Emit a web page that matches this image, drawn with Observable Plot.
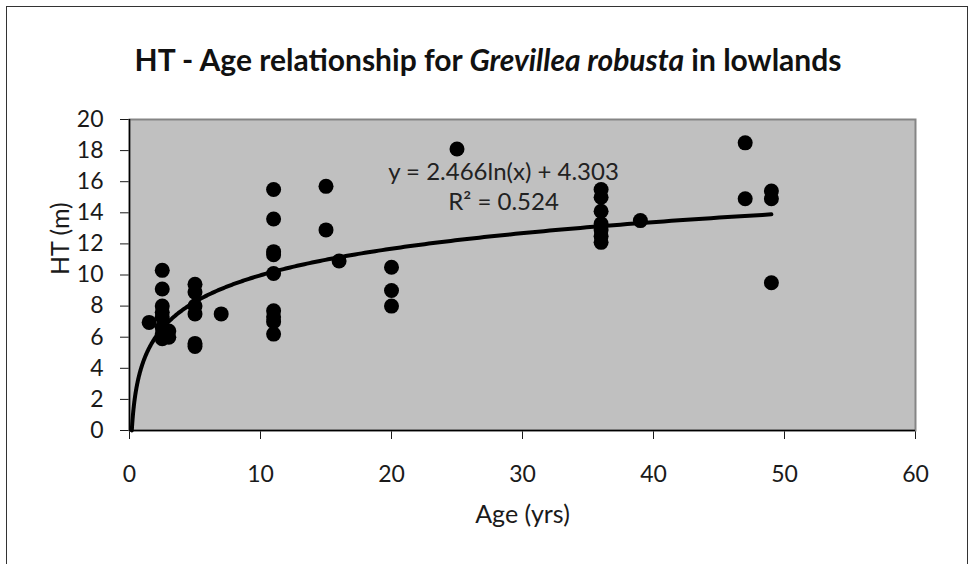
<!DOCTYPE html>
<html>
<head>
<meta charset="utf-8">
<script src="https://cdn.jsdelivr.net/npm/d3@7"></script>
<script src="https://cdn.jsdelivr.net/npm/@observablehq/plot@0.6"></script>
<style>
  body { margin: 0; background: #fff; }
  #wrap { position: relative; width: 976px; height: 564px; overflow: hidden; background: #fff; }
  #title { position: absolute; top: 41px; left: 0; width: 976px; text-align: center;
           font: bold 30px Lato, "Open Sans", sans-serif; line-height: 36px; color: #111; }
  #chart { position: absolute; top: 100px; left: 0; }
  #border { position: absolute; left: 6px; top: 6px; width: 960px; height: 700px;
            border: 1.5px solid #333; pointer-events: none; }
</style>
</head>
<body>
<div id="wrap">
  <div id="title">HT - Age relationship for <i>Grevillea robusta</i> in lowlands</div>
  <div id="chart"></div>
  <div id="border"></div>
</div>
<script>
// Observed data: age (yrs) and height (m)
const age = [
  1.5,
  2.5, 2.5, 2.5, 2.5, 2.5, 2.5, 2.5, 2.5,
  3, 3,
  5, 5, 5, 5, 5, 5,
  7,
  11, 11, 11, 11, 11, 11, 11, 11, 11,
  15, 15,
  16,
  20, 20, 20,
  25,
  36, 36, 36, 36, 36, 36, 36,
  39,
  47, 47,
  49, 49, 49
];
const height = [
  6.95,
  10.3, 9.1, 8.0, 7.6, 7.3, 6.6, 6.2, 5.9,
  6.4, 6.0,
  9.4, 8.9, 8.0, 7.5, 5.6, 5.4,
  7.5,
  15.5, 13.6, 11.5, 11.3, 10.1, 7.7, 7.3, 7.0, 6.2,
  15.7, 12.9,
  10.9,
  10.5, 9.0, 8.0,
  18.1,
  15.5, 15.0, 14.1, 13.3, 12.9, 12.5, 12.1,
  13.5,
  18.5, 14.9,
  15.4, 14.9, 9.5
];

// Logarithmic trendline reported on the chart: y = a ln(x) + b
const trendCoef = [2.466, 4.303];
const trendRange = [Math.exp(-trendCoef[1] / trendCoef[0]), 49];

// Tick values
const xTicks = [0, 10, 20, 30, 40, 50, 60];
const yTicks = [0, 2, 4, 6, 8, 10, 12, 14, 16, 18, 20];

// Equation label (data coordinates)
const eqLines = ["y = 2.466ln(x) + 4.303", "R² = 0.524"];
const eqX = [28.55, 28.55];
const eqY = [16.6, 14.65];

const points = age.map((a, i) => ({age: a, ht: height[i]}));
const n = 400;
const trend = d3.range(n).map(i => {
  const x = trendRange[0] * Math.pow(trendRange[1] / trendRange[0], i / (n - 1));
  return {age: x, ht: trendCoef[0] * Math.log(x) + trendCoef[1]};
});
const eq = eqLines.map((t, i) => ({text: t, x: eqX[i], y: eqY[i]}));

const chart = Plot.plot({
  width: 976,
  height: 464,
  marginTop: 19,
  marginBottom: 134,
  marginLeft: 129,
  marginRight: 61,
  style: {fontFamily: "Lato, 'Open Sans', sans-serif", fontSize: "23px", color: "#1a1a1a", background: "transparent"},
  x: {domain: [0, 60], ticks: xTicks, tickSize: 9, tickPadding: 26, label: null},
  y: {domain: [0, 20], ticks: yTicks, tickSize: 9, tickPadding: 17, label: null},
  marks: [
    Plot.frame({fill: "#c0c0c0", stroke: "#858585", strokeWidth: 2}),
    Plot.ruleY([0], {stroke: "#000", strokeWidth: 1.5}),
    Plot.ruleX([0], {stroke: "#000", strokeWidth: 1.5}),
    Plot.dot(points, {x: "age", y: "ht", r: 7.5, fill: "#000", stroke: "none"}),
    Plot.line(trend, {x: "age", y: "ht", stroke: "#000", strokeWidth: 4}),
    Plot.text(eq, {x: "x", y: "y", text: "text", fontSize: 24, fill: "#222", textAnchor: "middle"}),
    Plot.text(["Age (yrs)"], {frameAnchor: "bottom", dy: 92, fontSize: 25, fill: "#1a1a1a"}),
    Plot.text(["HT (m)"], {frameAnchor: "left", dx: -69, rotate: -90, fontSize: 25, fill: "#1a1a1a"})
  ]
});
document.getElementById("chart").appendChild(chart);
</script>
</body>
</html>
